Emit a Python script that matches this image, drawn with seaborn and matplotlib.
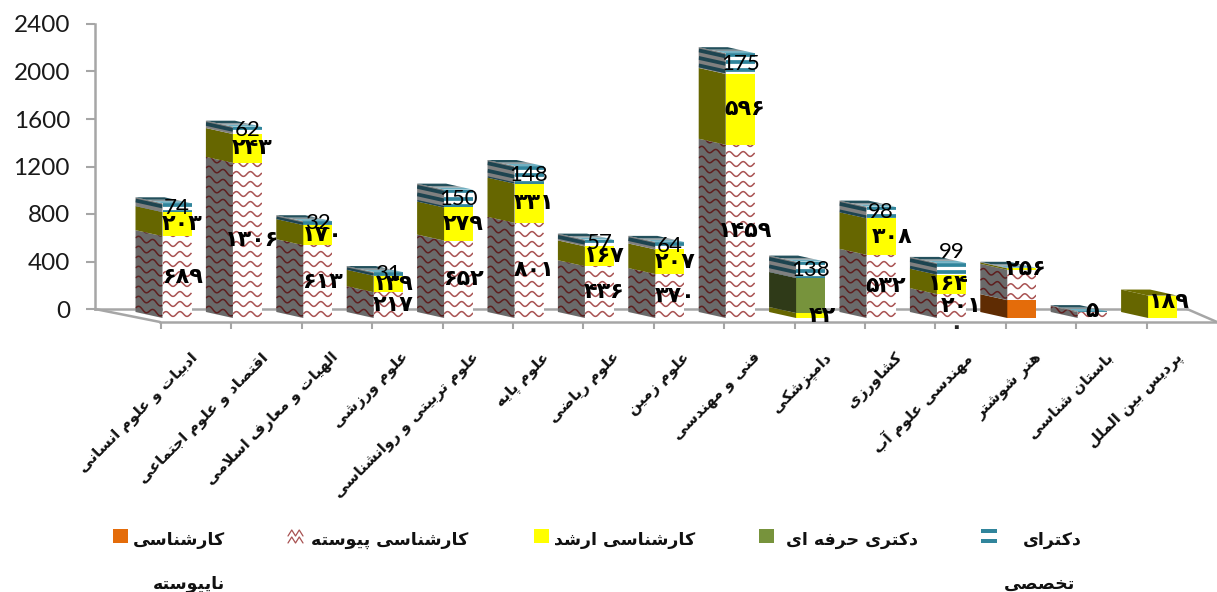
import numpy as np
import pandas as pd
import matplotlib
matplotlib.use('Agg')
import matplotlib.pyplot as plt
import seaborn as sns
from matplotlib.lines import Line2D
from matplotlib.patches import Rectangle

# داده ها
categories = ['ادبیات و علوم انسانی', 'اقتصاد و علوم اجتماعی', 'الهیات و معارف اسلامی', 'علوم ورزشی',
              'علوم تربیتی و روانشناسی', 'علوم پایه', 'علوم ریاضی', 'علوم زمین', 'فنی و مهندسی',
              'دامپزشکی', 'کشاورزی', 'مهندسی علوم آب', 'هنر شوشتر', 'باستان شناسی', 'پردیس بین الملل']
discontinuous = [0, 0, 0, 0, 0, 0, 0, 0, 0, 0, 0, 0, 150, 0, 0]
continuous = [689, 1306, 613, 217, 652, 801, 436, 370, 1459, 0, 532, 201, 256, 50, 0]
masters = [203, 243, 170, 139, 279, 331, 167, 207, 596, 42, 308, 164, 12, 0, 189]
professional = [0, 0, 0, 0, 0, 0, 0, 0, 0, 295, 0, 0, 0, 0, 0]
phd = [74, 62, 32, 31, 150, 148, 57, 64, 175, 138, 98, 99, 5, 8, 0]
y_ticks = [0, 400, 800, 1200, 1600, 2000, 2400]
legend_lines = [['کارشناسی', 'ناپیوسته'], ['کارشناسی پیوسته'], ['کارشناسی ارشد'], ['دکتری حرفه ای'], ['دکترای', 'تخصصی']]

W, H = 1217, 592
PX_X = 1 / 70.4        # یک پیکسل در محور x
PX_Y = 2400 / 285      # یک پیکسل در محور y
BAR_W = 29 * PX_X
DEPTH_X = 27 * PX_X
DEPTH_Y = 6 * PX_Y

forms = {
    'ا': 'ﺍﺎ', 'آ': 'ﺁﺂ', 'د': 'ﺩﺪ', 'ر': 'ﺭﺮ', 'ز': 'ﺯﺰ', 'و': 'ﻭﻮ',
    'ب': 'ﺏﺐﺑﺒ', 'پ': 'ﭖﭗﭘﭙ', 'ت': 'ﺕﺖﺗﺘ', 'ج': 'ﺝﺞﺟﺠ', 'ح': 'ﺡﺢﺣﺤ', 'خ': 'ﺥﺦﺧﺨ',
    'س': 'ﺱﺲﺳﺴ', 'ش': 'ﺵﺶﺷﺸ', 'ص': 'ﺹﺺﺻﺼ', 'ض': 'ﺽﺾﺿﻀ', 'ع': 'ﻉﻊﻋﻌ', 'ف': 'ﻑﻒﻓﻔ',
    'ق': 'ﻕﻖﻗﻘ', 'ک': 'ﮎﮏﮐﮑ', 'ل': 'ﻝﻞﻟﻠ', 'م': 'ﻡﻢﻣﻤ', 'ن': 'ﻥﻦﻧﻨ', 'ه': 'ﻩﻪﻫﻬ',
    'ی': 'ﯼﯽﯾﯿ',
}


def fa(text):
    # matplotlib حروف فارسی را به هم نمی چسباند
    out = []
    chars = list(text)
    i = 0
    while i < len(chars):
        c = chars[i]
        prev = chars[i - 1] if i > 0 else ' '
        joins_prev = prev in forms and len(forms[prev]) == 4
        if c == 'ل' and i + 1 < len(chars) and chars[i + 1] == 'ا':
            out.append('ﻼ' if joins_prev else 'ﻻ')
            i += 2
            continue
        if c not in forms:
            out.append(c)
            i += 1
            continue
        f = forms[c]
        nxt = chars[i + 1] if i + 1 < len(chars) else ' '
        if len(f) == 2 or nxt not in forms:
            out.append(f[1] if joins_prev else f[0])
        else:
            out.append(f[3] if joins_prev else f[2])
        i += 1
    return ''.join(reversed(out))


def fa_num(v):
    return str(v).translate(str.maketrans('0123456789', '۰۱۲۳۴۵۶۷۸۹'))


sns.set_style('white')
plt.rcParams['font.family'] = ['Lato', 'DejaVu Sans']
GRAY = '#a6a6a6'

fig = plt.figure(figsize=(W / 100, H / 100), dpi=100)

# دیوار پشتی و محور y
wall = fig.add_axes([95 / W, 1 - 309 / H, (1187 - 95) / W, 285 / H])
wall.set_ylim(0, 2400)
wall.set_xticks([])
wall.set_yticks(y_ticks)
wall.tick_params(axis='y', length=6.5, width=1.5, color=GRAY, labelsize=17.5, pad=11.5, labelcolor='#1a1a1a', left=True)
for s in ['top', 'right']:
    wall.spines[s].set_visible(False)
for s in ['left', 'bottom']:
    wall.spines[s].set_color(GRAY)
    wall.spines[s].set_linewidth(1.8)

# کف نمودار
for x0, y0, x1, y1 in [(95, 309, 160, 322), (1187, 309, 1217, 322)]:
    fig.add_artist(Line2D([x0 / W, x1 / W], [1 - y0 / H, 1 - y1 / H], color=GRAY, lw=1.8))

# محور جلو از سمت چپ بازتر است تا وجه کناری ستون اول بریده نشود
ax = fig.add_axes([100 / W, 1 - 318 / H, (W - 100) / W, 285 / H])
ax.patch.set_alpha(0)

series = [
    ('solid', discontinuous, '#e46c0a', '#5f2c03', None),
    ('wave', continuous, 'white', '#6a6a6a', '#6a6a6a'),
    ('solid', masters, '#ffff00', '#666600', '#6e6e00'),
    ('solid', professional, '#77933c', '#2f3a18', '#3b4a1e'),
    ('stripe', phd, 'white', '#808080', None),
]

df = pd.DataFrame({'category': categories, 'discontinuous': discontinuous, 'continuous': continuous,
                   'masters': masters, 'professional': professional, 'phd': phd})
bottom = np.zeros(len(categories))
totals = df[['discontinuous', 'continuous', 'masters', 'professional', 'phd']].sum(axis=1).values


def waves(x0, x1, y0, y1, slope, color, clip, lw=1.1):
    xs = np.linspace(x0, x1, 40)
    for row in np.arange(y0 + 4 * PX_Y, y1 + DEPTH_Y, 10 * PX_Y):
        ys = row + 2.4 * PX_Y * np.sin((xs - x0) / (14 * PX_X) * 2 * np.pi) + slope * (x1 - xs)
        ln, = ax.plot(xs, ys, color=color, lw=lw, zorder=3, solid_capstyle='butt')
        ln.set_clip_path(clip)


def stripes(x0, x1, y0, y1, slope, color, clip):
    xs = np.array([x0, x1])
    for row in np.arange(y1 - 1.7 * PX_Y, y0 - 2 * PX_Y, -7.5 * PX_Y):
        ln, = ax.plot(xs, row + slope * (x1 - xs), color=color, lw=2.7, zorder=3, solid_capstyle='butt')
        ln.set_clip_path(clip)


for kind, values, front, side, top in series:
    values = np.array(values, dtype=float)
    sns.barplot(x=categories, y=values, order=categories, bottom=bottom, color=front, width=BAR_W,
                saturation=1, errorbar=None, ax=ax, zorder=2, linewidth=0)
    bars = ax.containers[-1]
    for i, v in enumerate(values):
        if v <= 0:
            continue
        xl = i - BAR_W / 2
        xr = i + BAR_W / 2
        b, t = bottom[i], bottom[i] + v
        slope = DEPTH_Y / DEPTH_X
        poly = ax.fill([xl, xl, xl - DEPTH_X, xl - DEPTH_X], [b, t, t + DEPTH_Y, b + DEPTH_Y],
                       color=side, lw=0, zorder=2, clip_on=False)[0]
        if kind == 'wave':
            waves(xl, xr, b, t, 0, '#a85252', bars[i])
            waves(xl - DEPTH_X, xl, b, t, slope, '#5e1f1f', poly)
        elif kind == 'stripe':
            stripes(xl, xr, b, t, 0, '#31859c', bars[i])
            stripes(xl - DEPTH_X, xl, b, t + DEPTH_Y, slope, '#1d4450', poly)
        if t >= totals[i] - 0.01:
            if kind == 'stripe':
                # رویه بالای ستون: سه نوار رنگی
                for f0, f1, col in [(0, 0.35, '#6fb0c2'), (0.35, 0.6, '#8a979b'), (0.6, 1, '#23505c')]:
                    ax.fill([xl - f0 * DEPTH_X, xr - f0 * DEPTH_X, xr - f1 * DEPTH_X, xl - f1 * DEPTH_X],
                            [t + f0 * DEPTH_Y, t + f0 * DEPTH_Y, t + f1 * DEPTH_Y, t + f1 * DEPTH_Y],
                            color=col, lw=0, zorder=2, clip_on=False)
            elif top is not None:
                ax.fill([xl, xr, xr - DEPTH_X, xl - DEPTH_X], [t, t, t + DEPTH_Y, t + DEPTH_Y],
                        color=top, lw=0, zorder=2, clip_on=False)
    bottom = bottom + values

ax.set_xlim((100 - 177) * PX_X, (W - 177) * PX_X)
ax.set_ylim(0, 2400)
ax.set_xlabel('')
ax.set_ylabel('')
ax.set_yticks([])
for s in ['left', 'top', 'right']:
    ax.spines[s].set_visible(False)
ax.spines['bottom'].set_position(('outward', 3))
ax.spines['bottom'].set_bounds((160 - 177) * PX_X, (W - 177) * PX_X)
ax.spines['bottom'].set_color(GRAY)
ax.spines['bottom'].set_linewidth(1.8)
ax.set_xticks(np.arange(len(categories)) + 13 * PX_X)
ax.set_xticklabels([fa(c) for c in categories], rotation=45, ha='right', va='top', rotation_mode='anchor',
                   family='DejaVu Sans', fontweight='bold', fontsize=11, color='#111111')
ax.set_xticks(np.arange(len(categories)) - 16 * PX_X, minor=True)
ax.tick_params(axis='x', which='major', length=0, pad=20)
ax.tick_params(axis='x', which='minor', length=5, width=1.5, color=GRAY, bottom=True)
ax.grid(False)

# برچسب مقادیر
nudges = {('c', 12): (4, -16), ('c', 13): (0, -4), ('m', 14): (7, -5), ('m', 9): (12, 0),
          ('m', 10): (11, 0), ('m', 11): (-3, 0), ('c', 11): (10, 0), ('p', 11): (0, -17)}
label_text = {('c', 13): '۵'}
base = np.array(discontinuous, dtype=float)
for key, values, latin in [('c', continuous, False), ('m', masters, False), ('p', phd, True)]:
    for i, v in enumerate(values):
        if v > 0 and not (key == 'p' and i in (12, 13)) and not (key == 'm' and i == 12):
            dx, dy = nudges.get((key, i), (0 if latin else 5, 0))
            y = base[i] + v / 2 + (professional[i] if key == 'p' else 0)
            text = label_text.get((key, i), str(v) if latin else fa_num(v))
            ax.text(i + dx * PX_X, y - dy * PX_Y, text, ha='center', va='center',
                    zorder=20, color='black', clip_on=False,
                    family='Lato' if latin else 'DejaVu Sans',
                    fontweight='normal' if latin else 'bold', fontsize=16 if latin else 16)
    base = base + np.array(values, dtype=float)
ax.text(11 + 5 * PX_X, -9 * PX_Y, fa_num(0), ha='center', va='center', family='DejaVu Sans', fontweight='bold',
        fontsize=16, zorder=20, clip_on=False)

# راهنما
legend_x = [(113, 225), (288, 468), (534, 695), (759, 918), (981, 1082)]
legend_second_right = {0: 225, 4: 1075}
for k, lines in enumerate(legend_lines):
    mx, right = legend_x[k]
    if k == 1:
        xs = np.linspace(mx, mx + 15, 5)
        for row in [533, 540]:
            ys = row + 3 * (-1) ** np.arange(5)
            fig.add_artist(Line2D(xs / W, 1 - ys / H, color='#a85252', lw=0.9))
    elif k == 4:
        for row in [529, 539]:
            fig.add_artist(Rectangle((mx / W, 1 - (row + 4) / H), 16 / W, 4 / H, color='#31859c',
                                     transform=fig.transFigure, lw=0))
    else:
        color = ['#e46c0a', None, '#ffff00', '#77933c'][k]
        fig.add_artist(Rectangle((mx / W, 1 - 543 / H), 15 / W, 14 / H, color=color,
                                 transform=fig.transFigure, lw=0))
    fig.text(right / W, 1 - 540 / H, fa(lines[0]), ha='right', va='center', family='DejaVu Sans',
             fontweight='bold', fontsize=12.5, color='#111111')
    if len(lines) > 1:
        fig.text(legend_second_right[k] / W, 1 - 584 / H, fa(lines[1]), ha='right', va='center',
                 family='DejaVu Sans', fontweight='bold', fontsize=12.5, color='#111111')

fig.savefig('out.png', dpi=100)
